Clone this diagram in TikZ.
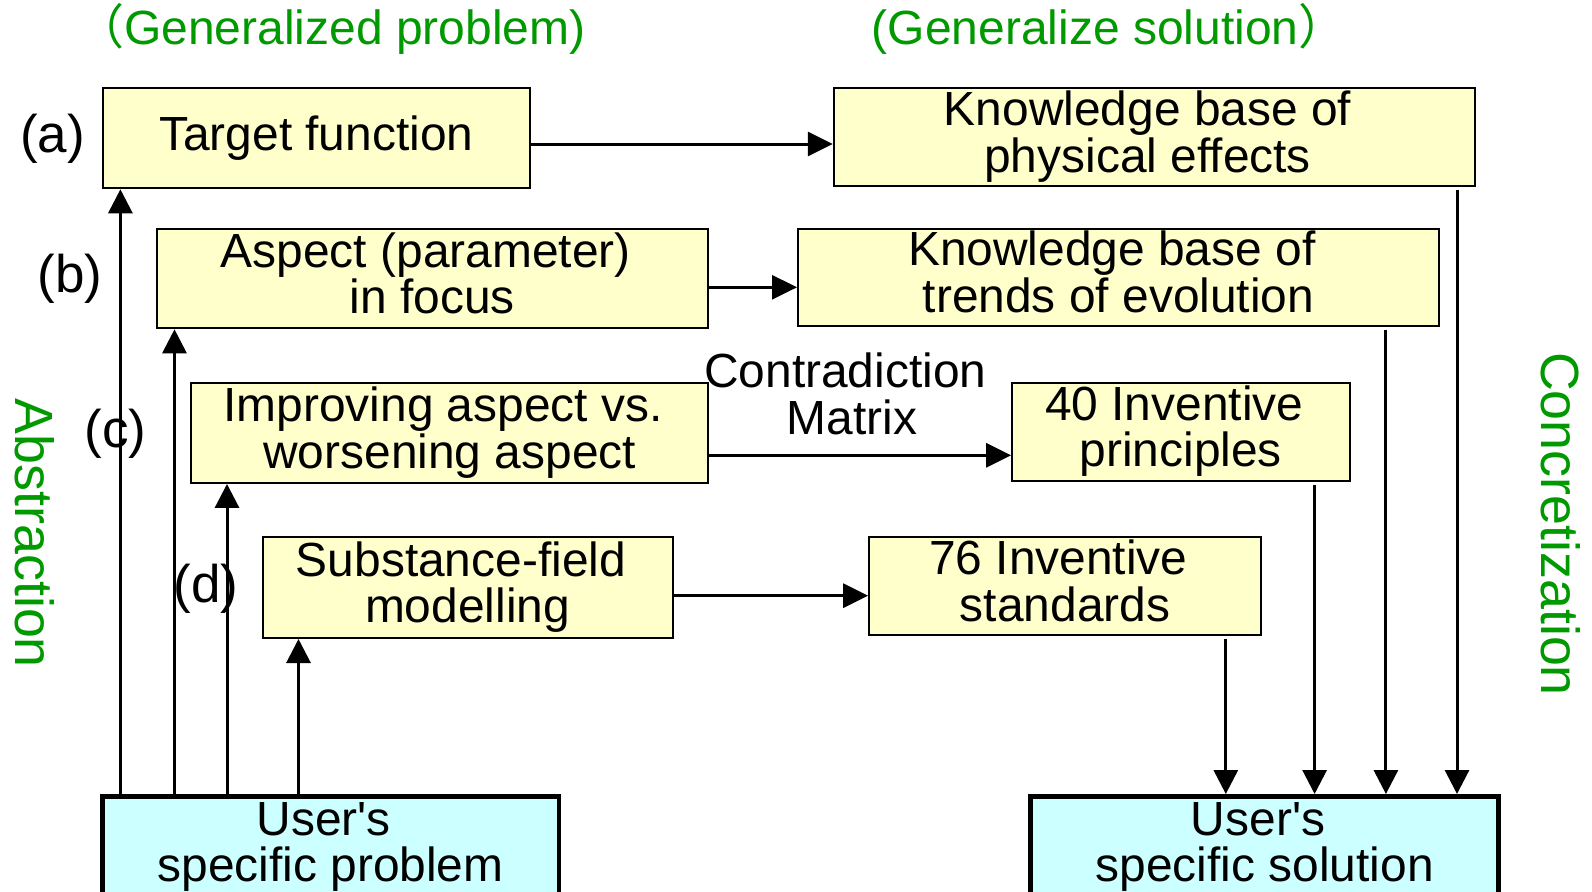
\documentclass[tikz,border=0pt]{standalone}
\usepackage{fontspec}
\setmainfont{Liberation Sans}[Ligatures=TeXOff]
\newfontfamily\cjkfont{Noto Sans CJK SC}
\usetikzlibrary{arrows.meta}
\definecolor{boxyellow}{RGB}{255,255,204}
\definecolor{boxcyan}{RGB}{204,255,255}
\definecolor{headgreen}{RGB}{0,153,0}
\newcommand\bstrut{\rule[-11pt]{0pt}{45pt}}
\newcommand\tsp{\hspace*{0.278em}}
\newcommand\boxfont{\fontsize{47.9}{45}\selectfont}
\begin{document}
\begin{tikzpicture}[x=1pt,y=-1pt,
  ybox/.style={draw=black, line width=2pt, fill=boxyellow, inner sep=0pt, align=center, font=\boxfont},
  ubox/.style={draw=black, line width=4.5pt, fill=boxcyan, inner xsep=0pt, inner ysep=5pt, align=center, font=\boxfont, anchor=north},
  arr/.style={line width=3pt, -{Triangle[length=25pt,width=24pt]}},
  varr/.style={line width=3pt, -{Triangle[length=24pt,width=24pt]}},
  lab/.style={font=\fontsize{53}{53}\selectfont, anchor=base, inner sep=0pt},
  head/.style={font=\fontsize{48}{48}\selectfont, text=headgreen, anchor=base west, inner sep=0pt},
  side/.style={font=\fontsize{53.8}{53.8}\selectfont, text=headgreen, rotate=-90, inner sep=0pt}]
\clip (0,0) rectangle (1592,891);
\fill[white] (0,0) rectangle (1592,891);

% headings
\node[head] (hp) at (76,45) {{\cjkfont （}Generalized problem)};
\node[head] (hs) at (871.5,45) {(Generalize solution{\cjkfont ）}};
\node[side] (abs) at (35,533.3) {Abstraction};
\node[side] (con) at (1561,524) {Concretization};

% level labels
\node[lab] (la) at (52.5,152.5) {(a)};
\node[lab] (lb) at (70,292.5) {(b)};
\node[lab] (lc) at (115.3,447) {(c)};
\node[lab] (ld) at (206,602) {(d)};

% yellow boxes
\node[ybox, minimum width=426.6pt, minimum height=100pt] (tf) at (316.3,138.3) {\bstrut Target function};
\node[ybox, minimum width=641pt, minimum height=97.4pt] (kbp) at (1154.3,137) {\bstrut Knowledge base of\tsp\\\bstrut physical effects\tsp};
\node[ybox, minimum width=551.6pt, minimum height=99.6pt] (asp) at (432.4,278.5) {\bstrut Aspect (parameter)\tsp\\\bstrut in focus};
\node[ybox, minimum width=641pt, minimum height=97pt] (kbt) at (1118.5,277.2) {\bstrut Knowledge base of\tsp\\\bstrut trends of evolution};
\node[ybox, minimum width=517pt, minimum height=100.3pt] (imp) at (449.7,432.8) {\bstrut Improving aspect vs.\tsp\\\bstrut worsening aspect};
\node[ybox, minimum width=337.4pt, minimum height=98pt] (ip) at (1180.8,431.7) {\bstrut 40 Inventive\tsp\\\bstrut principles};
\node[ybox, minimum width=409.8pt, minimum height=101pt] (suf) at (467.6,587.5) {\bstrut Substance-field\tsp\\\bstrut modelling};
\node[ybox, minimum width=392pt, minimum height=98pt] (std) at (1065.1,586) {\bstrut 76 Inventive\tsp\\\bstrut standards};

\node[font=\boxfont, align=center, inner sep=0pt] (cm) at (852,399.3) {\bstrut Contradiction\tsp\\\bstrut Matrix};

% user boxes
\node[ubox, minimum width=456.5pt] (up) at (330.5,794) {\bstrut User's\tsp\\\bstrut specific problem\rule[-40pt]{0pt}{0pt}};
\node[ubox, minimum width=468pt] (us) at (1264.7,794) {\bstrut User's\tsp\\\bstrut specific solution\rule[-40pt]{0pt}{0pt}};

% horizontal arrows
\draw[arr] (tf.east |- 0,144) -- (kbp.west |- 0,144);
\draw[arr] (asp.east |- 0,287.3) -- (kbt.west |- 0,287.3);
\draw[arr] (imp.east |- 0,455.3) -- (ip.west |- 0,455.3);
\draw[arr] (suf.east |- 0,595.7) -- (std.west |- 0,595.7);

% abstraction arrows
\draw[varr] (up.north -| 120.4,0) -- (tf.south -| 120.4,0);
\draw[varr] (up.north -| 174.5,0) -- (asp.south -| 174.5,0);
\draw[varr] (up.north -| 227,0) -- (imp.south -| 227,0);
\draw[varr] (up.north -| 298.5,0) -- (suf.south -| 298.5,0);

% concretization arrows
\draw[varr, shorten <=3pt] (std.south -| 1225.8,0) -- (us.north -| 1225.8,0);
\draw[varr, shorten <=3pt] (ip.south -| 1314.6,0) -- (us.north -| 1314.6,0);
\draw[varr, shorten <=3pt] (kbt.south -| 1385.9,0) -- (us.north -| 1385.9,0);
\draw[varr, shorten <=3pt] (kbp.south -| 1457,0) -- (us.north -| 1457,0);
\end{tikzpicture}
\end{document}
